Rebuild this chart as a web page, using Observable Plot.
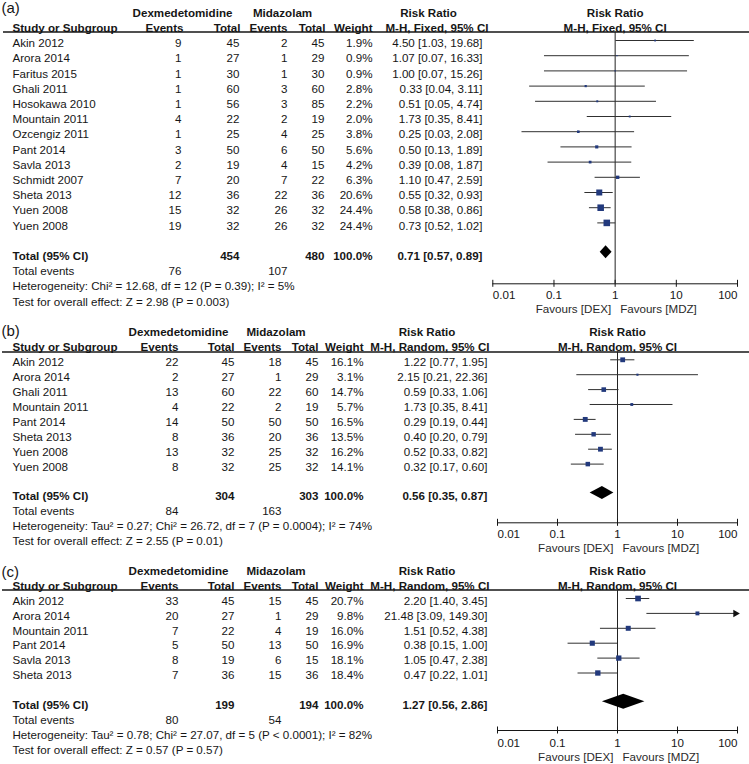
<!DOCTYPE html>
<html><head><meta charset="utf-8">
<script src="https://cdn.jsdelivr.net/npm/d3@7"></script>
<script src="https://cdn.jsdelivr.net/npm/@observablehq/plot@0.6"></script>
<style>
html,body{margin:0;padding:0;background:#fff;}
#chart{width:749px;height:764px;overflow:hidden;}
#chart svg{display:block;}
</style></head><body><div id="chart"></div>
<script>
// ---------- DATA ----------
const panelLabels = ["(a)", "(b)", "(c)"];
const methods = ["M-H, Fixed, 95% CI", "M-H, Random, 95% CI", "M-H, Random, 95% CI"];
const tickValues = [0.01, 0.1, 1, 10, 100];
const tickLabels = ["0.01", "0.1", "1", "10", "100"];

// Panel (a)
const aStudy = ["Akin 2012", "Arora 2014", "Faritus 2015", "Ghali 2011", "Hosokawa 2010", "Mountain 2011", "Ozcengiz 2011", "Pant 2014", "Savla 2013", "Schmidt 2007", "Sheta 2013", "Yuen 2008", "Yuen 2008"];
const aDexEvents = [9, 1, 1, 1, 1, 4, 1, 3, 2, 7, 12, 15, 19];
const aDexTotal = [45, 27, 30, 60, 56, 22, 25, 50, 19, 20, 36, 32, 32];
const aMidEvents = [2, 1, 1, 3, 3, 2, 4, 6, 4, 7, 22, 26, 26];
const aMidTotal = [45, 29, 30, 60, 85, 19, 25, 50, 15, 22, 36, 32, 32];
const aWeight = [1.9, 0.9, 0.9, 2.8, 2.2, 2.0, 3.8, 5.6, 4.2, 6.3, 20.6, 24.4, 24.4];
const aRR = [4.50, 1.07, 1.00, 0.33, 0.51, 1.73, 0.25, 0.50, 0.39, 1.10, 0.55, 0.58, 0.73];
const aLo = [1.03, 0.07, 0.07, 0.04, 0.05, 0.35, 0.03, 0.13, 0.08, 0.47, 0.32, 0.38, 0.52];
const aHi = [19.68, 16.33, 15.26, 3.11, 4.74, 8.41, 2.08, 1.89, 1.87, 2.59, 0.93, 0.86, 1.02];

// Panel (b)
const bStudy = ["Akin 2012", "Arora 2014", "Ghali 2011", "Mountain 2011", "Pant 2014", "Sheta 2013", "Yuen 2008", "Yuen 2008"];
const bDexEvents = [22, 2, 13, 4, 14, 8, 13, 8];
const bDexTotal = [45, 27, 60, 22, 50, 36, 32, 32];
const bMidEvents = [18, 1, 22, 2, 50, 20, 25, 25];
const bMidTotal = [45, 29, 60, 19, 50, 36, 32, 32];
const bWeight = [16.1, 3.1, 14.7, 5.7, 16.5, 13.5, 16.2, 14.1];
const bRR = [1.22, 2.15, 0.59, 1.73, 0.29, 0.40, 0.52, 0.32];
const bLo = [0.77, 0.21, 0.33, 0.35, 0.19, 0.20, 0.33, 0.17];
const bHi = [1.95, 22.36, 1.06, 8.41, 0.44, 0.79, 0.82, 0.60];

// Panel (c)
const cStudy = ["Akin 2012", "Arora 2014", "Mountain 2011", "Pant 2014", "Savla 2013", "Sheta 2013"];
const cDexEvents = [33, 20, 7, 5, 8, 7];
const cDexTotal = [45, 27, 22, 50, 19, 36];
const cMidEvents = [15, 1, 4, 13, 6, 15];
const cMidTotal = [45, 29, 19, 50, 15, 36];
const cWeight = [20.7, 9.8, 16.0, 16.9, 18.1, 18.4];
const cRR = [2.20, 21.48, 1.51, 0.38, 1.05, 0.47];
const cLo = [1.40, 3.09, 0.52, 0.15, 0.47, 0.22];
const cHi = [3.45, 149.30, 4.38, 1.00, 2.38, 1.01];

// Totals (a, b, c)
const totalDexN = [454, 304, 199];
const totalMidN = [480, 303, 194];
const totalRR = [0.71, 0.56, 1.27];
const totalLo = [0.57, 0.35, 0.56];
const totalHi = [0.89, 0.87, 2.86];
const totalDexEvents = [76, 84, 80];
const totalMidEvents = [107, 163, 54];
const heterogeneity = [
  "Heterogeneity: Chi² = 12.68, df = 12 (P = 0.39); I² = 5%",
  "Heterogeneity: Tau² = 0.27; Chi² = 26.72, df = 7 (P = 0.0004); I² = 74%",
  "Heterogeneity: Tau² = 0.78; Chi² = 27.07, df = 5 (P < 0.0001); I² = 82%"
];
const overallTest = [
  "Test for overall effect: Z = 2.98 (P = 0.003)",
  "Test for overall effect: Z = 2.55 (P = 0.01)",
  "Test for overall effect: Z = 0.57 (P = 0.57)"
];

// ---------- LAYOUT ----------
const FONT = "'Liberation Sans', Arial, Helvetica, sans-serif";
const FS = 11.6;
const INK = "#161616";
const NAVY = "#22397c";
const layouts = [
  {height: 318, row0: 43, rowH: 15.2, rulePx: 31.5, axisPx: 283.3, tickPx: 295, favPx: 308.5, labelPx: 7.5,
   xRange: [492.3, 737], ruleInset: 3, wMax: 24.4, rMax: 3.7, markDy: -3, diamondHalf: 6.5,
   cols: {study: 12, de: 181, dt: 239, me: 287, mt: 324, w: 372, ci: 482},
   h1: {dex: 182, mid: 282, rr: 428}, h2: {de: 183, dt: 240, me: 287, mt: 325, w: 372, ci: 488}},
  {height: 238, row0: 44, rowH: 14.9, rulePx: 33.5, axisPx: 204.3, tickPx: 215.5, favPx: 230, labelPx: 12.5,
   xRange: [497, 737], ruleInset: 2, wMax: 16.5, rMax: 2.75, markDy: -2.7, diamondHalf: 6.5,
   cols: {study: 12, de: 178, dt: 234, me: 281, mt: 318, w: 363, ci: 487},
   h1: {dex: 178, mid: 275.5, rr: 426.5}, h2: {de: 178, dt: 234, me: 281, mt: 318, w: 363, ci: 489}},
  {height: 208, row0: 44.5, rowH: 14.9, rulePx: 33.5, axisPx: 174, tickPx: 187, favPx: 200.7, labelPx: 15.5,
   xRange: [497, 737], ruleInset: 2, wMax: 20.7, rMax: 3.2, markDy: -2.5, diamondHalf: 7.5,
   cols: {study: 12, de: 178, dt: 234, me: 281, mt: 318, w: 363, ci: 487},
   h1: {dex: 178, mid: 275.5, rr: 426.5}, h2: {de: 178, dt: 234, me: 281, mt: 318, w: 363, ci: 489}}
];

const studies = [
  {study: aStudy, de: aDexEvents, dt: aDexTotal, me: aMidEvents, mt: aMidTotal, w: aWeight, rr: aRR, lo: aLo, hi: aHi},
  {study: bStudy, de: bDexEvents, dt: bDexTotal, me: bMidEvents, mt: bMidTotal, w: bWeight, rr: bRR, lo: bLo, hi: bHi},
  {study: cStudy, de: cDexEvents, dt: cDexTotal, me: cMidEvents, mt: cMidTotal, w: cWeight, rr: cRR, lo: cLo, hi: cHi}
];

const f2 = v => v.toFixed(2);
const ciText = (r, l, h) => `${f2(r)} [${f2(l)}, ${f2(h)}]`;

function panel(p) {
  const S = studies[p], L = layouts[p];
  const n = S.study.length;
  const rows = d3.range(n).map(i => ({
    i, study: S.study[i], de: S.de[i], dt: S.dt[i], me: S.me[i], mt: S.mt[i],
    w: S.w[i], rr: S.rr[i], lo: S.lo[i], hi: S.hi[i]
  }));
  const tRow = n + 1, eRow = n + 2, hRow = n + 3, zRow = n + 4;
  const toRow = px => (px - L.row0) / L.rowH;
  const ruleRow = toRow(L.rulePx), axisRow = toRow(L.axisPx), tickRow = toRow(L.tickPx),
        favRow = toRow(L.favPx), labRow = toRow(L.labelPx);
  const dh = L.diamondHalf / L.rowH;
  const C = L.cols;

  const base = {fontSize: FS, fill: INK, frameAnchor: "left"};
  const bold = {...base, fontWeight: "bold"};
  const T = (data, opts) => Plot.text(data, {...base, ...opts});
  const B = (data, opts) => Plot.text(data, {...bold, ...opts});
  const one = v => [v];

  const totalRowData = [{
    label: "Total (95% CI)", dt: totalDexN[p], mt: totalMidN[p], w: "100.0%",
    ci: ciText(totalRR[p], totalLo[p], totalHi[p])
  }];
  const diamond = [
    {x: totalLo[p], y1: tRow, y2: tRow},
    {x: totalRR[p], y1: tRow - dh, y2: tRow + dh},
    {x: totalHi[p], y1: tRow, y2: tRow}
  ];
  const clipped = rows.filter(r => r.hi > 100);
  const ticks = tickValues.map((v, k) => ({v, label: tickLabels[k]}));

  return Plot.plot({
    width: 749, height: L.height, margin: 0,
    style: {fontFamily: FONT, fontSize: FS + "px", background: "white", color: INK, overflow: "visible"},
    x: {type: "log", domain: [0.01, 100], range: L.xRange, clamp: true, axis: null},
    y: {type: "linear", domain: [0, 1], range: [L.row0, L.row0 + L.rowH], axis: null},
    r: {type: "sqrt", domain: [0, L.wMax], range: [0, L.rMax]},
    marks: [
      // panel label
      T(one(panelLabels[p]), {y: () => labRow, text: d => d, dx: 1, textAnchor: "start", fontSize: 15}),
      // header row 1
      B(one("Dexmedetomidine"), {y: () => -2, text: d => d, dx: L.h1.dex, textAnchor: "middle"}),
      B(one("Midazolam"), {y: () => -2, text: d => d, dx: L.h1.mid, textAnchor: "middle"}),
      B(one("Risk Ratio"), {y: () => -2, text: d => d, dx: L.h1.rr, textAnchor: "middle"}),
      // header row 2
      B(one("Study or Subgroup"), {y: () => -1, text: d => d, dx: C.study, textAnchor: "start"}),
      B(one("Events"), {y: () => -1, text: d => d, dx: L.h2.de, textAnchor: "end"}),
      B(one("Total"), {y: () => -1, text: d => d, dx: L.h2.dt, textAnchor: "end"}),
      B(one("Events"), {y: () => -1, text: d => d, dx: L.h2.me, textAnchor: "end"}),
      B(one("Total"), {y: () => -1, text: d => d, dx: L.h2.mt, textAnchor: "end"}),
      B(one("Weight"), {y: () => -1, text: d => d, dx: L.h2.w, textAnchor: "end"}),
      B(one(methods[p]), {y: () => -1, text: d => d, dx: L.h2.ci, textAnchor: "end"}),
      // forest headers
      Plot.text(one("Risk Ratio"), {x: () => 1, y: () => -2, text: d => d, fontWeight: "bold", fontSize: FS, fill: INK}),
      Plot.text(one(methods[p]), {x: () => 1, y: () => -1, text: d => d, fontWeight: "bold", fontSize: FS, fill: INK}),
      // header rule
      Plot.ruleY(one(ruleRow), {y: d => d, insetLeft: L.ruleInset, stroke: INK, strokeWidth: 1.4}),
      // study rows
      T(rows, {y: "i", text: "study", dx: C.study, textAnchor: "start"}),
      T(rows, {y: "i", text: "de", dx: C.de, textAnchor: "end"}),
      T(rows, {y: "i", text: "dt", dx: C.dt, textAnchor: "end"}),
      T(rows, {y: "i", text: "me", dx: C.me, textAnchor: "end"}),
      T(rows, {y: "i", text: "mt", dx: C.mt, textAnchor: "end"}),
      T(rows, {y: "i", text: d => d.w.toFixed(1) + "%", dx: C.w, textAnchor: "end"}),
      T(rows, {y: "i", text: d => ciText(d.rr, d.lo, d.hi), dx: C.ci, textAnchor: "end"}),
      // total row
      B(totalRowData, {y: () => tRow, text: "label", dx: C.study, textAnchor: "start"}),
      B(totalRowData, {y: () => tRow, text: "dt", dx: C.dt, textAnchor: "end"}),
      B(totalRowData, {y: () => tRow, text: "mt", dx: C.mt, textAnchor: "end"}),
      B(totalRowData, {y: () => tRow, text: "w", dx: C.w, textAnchor: "end"}),
      B(totalRowData, {y: () => tRow, text: "ci", dx: C.ci, textAnchor: "end"}),
      // total events
      T(one("Total events"), {y: () => eRow, text: d => d, dx: C.study, textAnchor: "start"}),
      T(one(totalDexEvents[p]), {y: () => eRow, text: d => d, dx: C.de, textAnchor: "end"}),
      T(one(totalMidEvents[p]), {y: () => eRow, text: d => d, dx: C.me, textAnchor: "end"}),
      T(one(heterogeneity[p]), {y: () => hRow, text: d => d, dx: C.study, textAnchor: "start"}),
      T(one(overallTest[p]), {y: () => zRow, text: d => d, dx: C.study, textAnchor: "start"}),
      // line of no effect
      Plot.ruleX(one(1), {x: d => d, y1: () => ruleRow, y2: () => axisRow, stroke: "#222", strokeWidth: 1}),
      // confidence intervals
      Plot.ruleY(rows, {y: "i", x1: "lo", x2: "hi", stroke: "#303030", strokeWidth: 1, dy: L.markDy}),
      Plot.dot(clipped, {x: () => 100, y: "i", symbol: "triangle", rotate: 90, r: 2.8, fill: "#111", stroke: "none", dy: L.markDy, dx: -2}),
      // study squares
      Plot.dot(rows, {x: "rr", y: "i", r: "w", symbol: "square", fill: NAVY, stroke: "none", dy: L.markDy}),
      // pooled diamond
      Plot.areaY(diamond, {x: "x", y1: "y1", y2: "y2", fill: "#000", dy: L.markDy - 1}),
      // axis
      Plot.ruleY(one(axisRow), {y: d => d, x1: () => 0.01, x2: () => 100, stroke: INK, strokeWidth: 1}),
      Plot.ruleX(ticks, {x: "v", y1: () => axisRow, y2: () => axisRow, insetTop: -3.5, insetBottom: -3.5, stroke: INK}),
      Plot.text(ticks.slice(0, 1), {x: "v", y: () => tickRow, text: "label", textAnchor: "start", fontSize: FS, fill: INK}),
      Plot.text(ticks.slice(1, -1), {x: "v", y: () => tickRow, text: "label", textAnchor: "middle", fontSize: FS, fill: INK}),
      Plot.text(ticks.slice(-1), {x: "v", y: () => tickRow, text: "label", textAnchor: "end", fontSize: FS, fill: INK}),
      Plot.text(one("Favours [DEX]"), {x: () => 1, y: () => favRow, text: d => d, textAnchor: "end", dx: -4, fontSize: FS, fill: "#2a2a2a"}),
      Plot.text(one("Favours [MDZ]"), {x: () => 1, y: () => favRow, text: d => d, textAnchor: "start", dx: 5, fontSize: FS, fill: "#2a2a2a"})
    ]
  });
}

const root = document.getElementById("chart");
for (let p = 0; p < 3; ++p) root.appendChild(panel(p));
</script>
</body></html>
